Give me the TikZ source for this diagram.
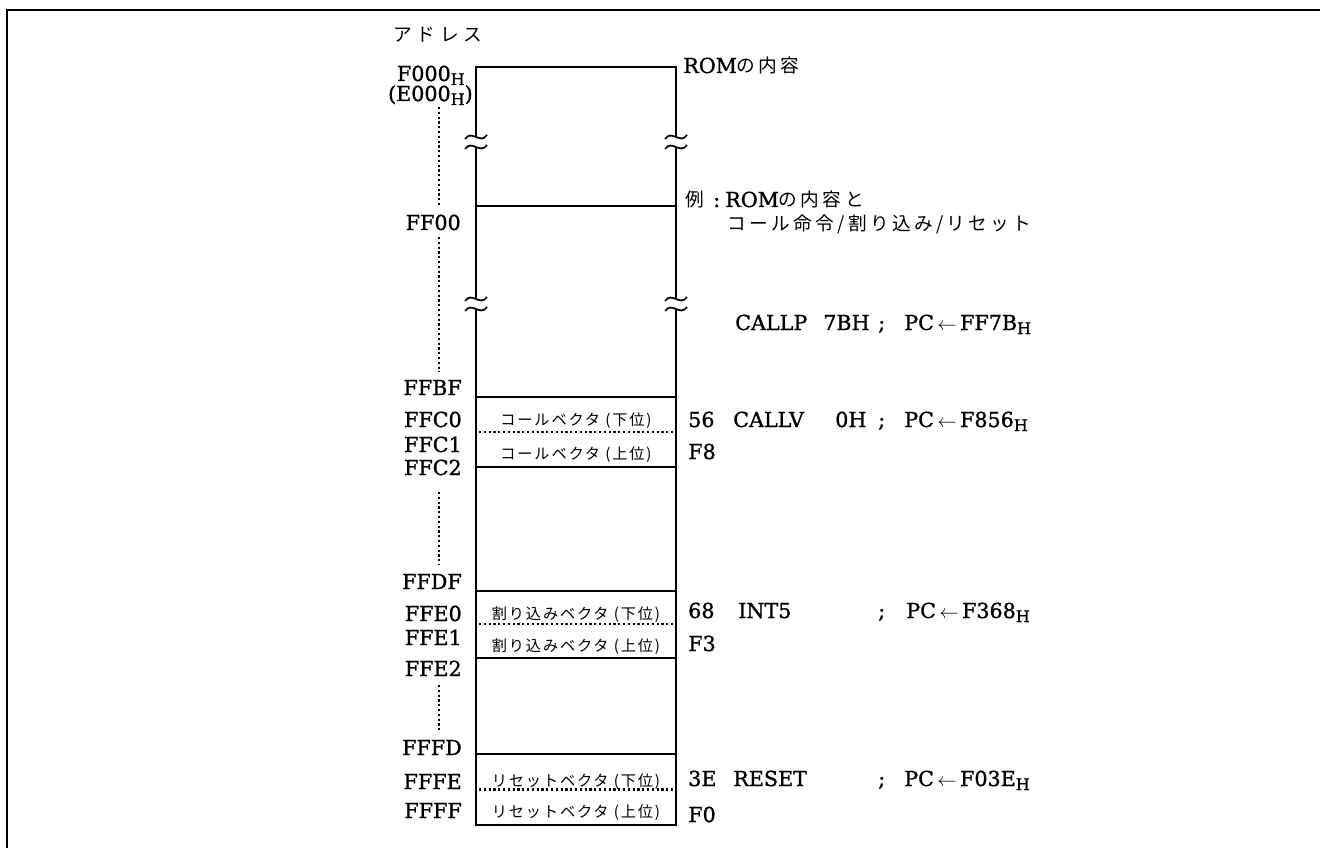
\documentclass[tikz,border=0pt]{standalone}
\usepackage{fontspec}
\setmainfont{DejaVu Serif}[FakeBold=1.2]
\newfontfamily\jpfam[LetterSpace=18]{Noto Sans CJK JP}
\newfontfamily\adrfam[LetterSpace=26]{Noto Sans CJK JP}
\newfontfamily\cellfam[LetterSpace=12]{Noto Sans CJK JP}
\newcommand\latf{\fontsize{15.5}{18}\selectfont}
\newcommand\jpf{\jpfam\fontsize{14}{17}\selectfont}
\newcommand\adrf{\adrfam\fontsize{14}{17}\selectfont}
\newcommand\cellf{\cellfam\fontsize{11.4}{13}\selectfont}
\newcommand\subH{\raisebox{-3pt}{\fontsize{12}{12}\selectfont H}}
\newcommand\larr{\,$\leftarrow$\,}
\begin{document}
\begin{tikzpicture}[x=0.75pt,y=-0.75pt,
  boxline/.style={line width=1.7pt},
  dotline/.style={line width=1.6pt, dotted},
  brk/.style={line width=1.3pt},
  addr/.style={anchor=base east, inner sep=0pt, font=\latf},
  txt/.style={anchor=base west, inner sep=0pt, font=\latf},
  jtxt/.style={anchor=base west, inner sep=0pt, font=\jpf},
  cell/.style={anchor=base, inner sep=0pt, font=\cellf}]
\useasboundingbox (0,0) rectangle (1320,848);
% frame
\draw[line width=1.7pt] (1320,10) -- (7,10) -- (7,848);
% memory box
\draw[boxline] (476,137) -- (476,67) -- (676,67) -- (676,137);
\draw[boxline] (476,147) -- (476,299);
\draw[boxline] (676,147) -- (676,299);
\draw[boxline] (476,309) -- (476,825) -- (676,825) -- (676,309);
\foreach \yy in {206,397,467,591,658,754}
  \draw[boxline] (476,\yy) -- (676,\yy);
\foreach \yy in {432,624,789.5}
  \draw[dotline] (479,\yy) -- (673,\yy);
% break marks
\foreach \xx in {476,676}
  \foreach \yy in {137,147,299,309}
    \draw[brk] (\xx-11,\yy+2) .. controls (\xx-4,\yy-8) and (\xx+4,\yy+8) .. (\xx+11,\yy-2);
% dotted address guide
\draw[dotline] (439,107) -- (439,205);
\draw[dotline] (439,237) -- (439,372);
\draw[dotline] (439,492) -- (439,565);
\draw[dotline] (439,685) -- (439,730);
% address labels
\node[jtxt, font=\adrf] (adr) at (393,42) {アドレス};
\node[addr] (aF000) at (465,81) {F000\subH};
\node[addr] (aE000) at (473,101) {(E000\subH)};
\node[addr] (aFF00) at (461,230) {FF00};
\node[addr] (aFFBF) at (462,395) {FFBF};
\node[addr] (aFFC0) at (462,427) {FFC0};
\node[addr] (aFFC1) at (462,452) {FFC1};
\node[addr] (aFFC2) at (462,475) {FFC2};
\node[addr] (aFFDF) at (462,589) {FFDF};
\node[addr] (aFFE0) at (462,621) {FFE0};
\node[addr] (aFFE1) at (462,645) {FFE1};
\node[addr] (aFFE2) at (462,676) {FFE2};
\node[addr] (aFFFD) at (462,755) {FFFD};
\node[addr] (aFFFE) at (462,789) {FFFE};
\node[addr] (aFFFF) at (462,818) {FFFF};
% cell texts
\node[cell] (c1) at (576,425) {コールベクタ (下位)};
\node[cell] (c2) at (576,459) {コールベクタ (上位)};
\node[cell] (c3) at (576,619) {割り込みベクタ (下位)};
\node[cell] (c4) at (576,651) {割り込みベクタ (上位)};
\node[cell] (c5) at (576,786) {リセットベクタ (下位)};
\node[cell] (c6) at (576,817) {リセットベクタ (上位)};
% right texts
\node[txt] (rom) at (683,73) {ROM{\jpf の内容}};
\node[jtxt] (ex0) at (685,207) {例};
\node[txt] (excolon) at (713,207) {:};
\node[txt] (ex1) at (725,207) {ROM{\jpf の内容と}};
\node[jtxt] (ex2) at (727,231) {コール命令/割り込み/リセット};
% CALLP
\node[txt] (callp) at (735,330) {CALLP};
\node[txt] (callpop) at (823,330) {7BH};
\node[txt] (callpsc) at (878,330) {;};
\node[txt] (callppc) at (904,330) {PC\larr FF7B\subH};
% CALLV
\node[txt] (v56) at (688,427) {56};
\node[txt] (callv) at (733,427) {CALLV};
\node[txt] (callvop) at (835,427) {0H};
\node[txt] (callvsc) at (878,427) {;};
\node[txt] (callvpc) at (904,427) {PC\larr F856\subH};
\node[txt] (vF8) at (688,459) {F8};
% INT5
\node[txt] (v68) at (688,618) {68};
\node[txt] (int5) at (738,618) {INT5};
\node[txt] (intsc) at (878,618) {;};
\node[txt] (intpc) at (906,618) {PC\larr F368\subH};
\node[txt] (vF3) at (688,651) {F3};
% RESET
\node[txt] (v3E) at (688,786) {3E};
\node[txt] (reset) at (733,786) {RESET};
\node[txt] (rstsc) at (878,786) {;};
\node[txt] (rstpc) at (904,786) {PC\larr F03E\subH};
\node[txt] (vF0) at (688,822) {F0};
\end{tikzpicture}
\end{document}
